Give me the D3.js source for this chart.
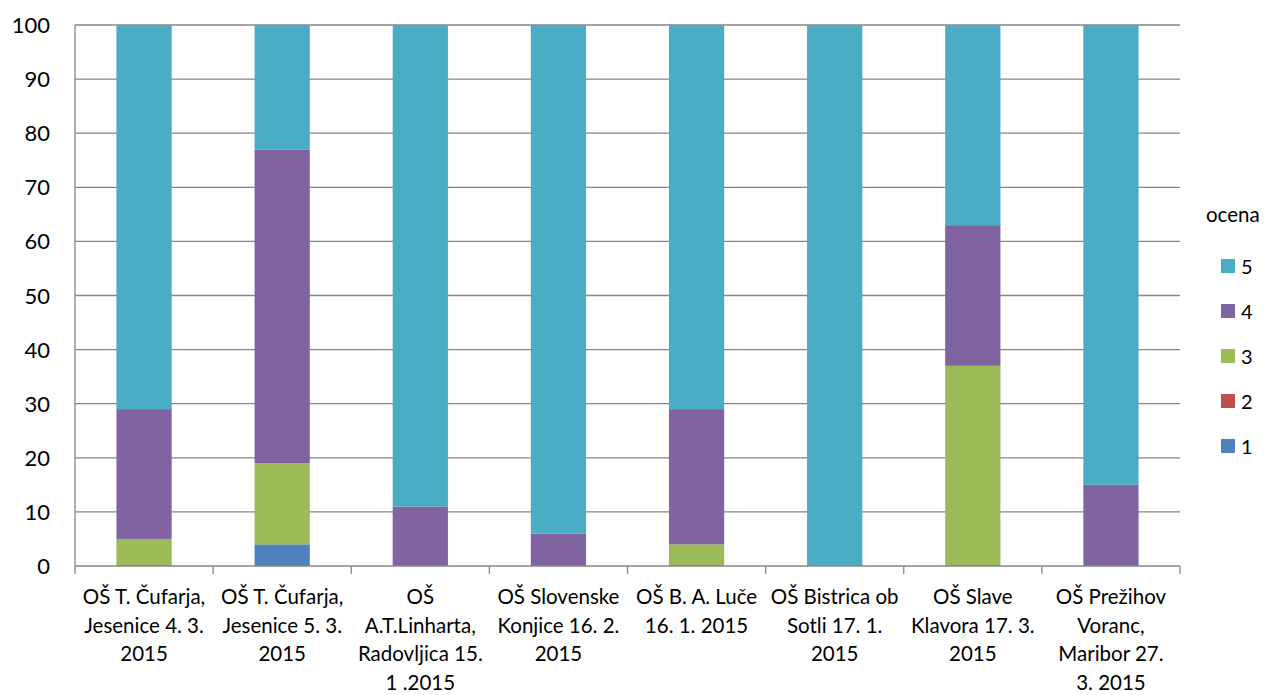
<!DOCTYPE html>
<html><head><meta charset="utf-8">
<script src="https://cdn.jsdelivr.net/npm/d3@7"></script>
<style>body{margin:0;background:#fff}svg text{font-family:Lato,"Open Sans",sans-serif;fill:#000}</style>
</head><body><svg id="c" width="1266" height="695"></svg>
<script>
const categories = [
 "OŠ T. Čufarja,\nJesenice 4. 3.\n2015",
 "OŠ T. Čufarja,\nJesenice 5. 3.\n2015",
 "OŠ\nA.T.Linharta,\nRadovljica 15.\n1 .2015",
 "OŠ Slovenske\nKonjice 16. 2.\n2015",
 "OŠ B. A. Luče\n16. 1. 2015",
 "OŠ Bistrica ob\nSotli 17. 1.\n2015",
 "OŠ Slave\nKlavora 17. 3.\n2015",
 "OŠ Prežihov\nVoranc,\nMaribor 27.\n3. 2015"
];
const grade1 = [0, 4, 0, 0, 0, 0, 0, 0];
const grade2 = [0, 0, 0, 0, 0, 0, 0, 0];
const grade3 = [5, 15, 0, 0, 4, 0, 37, 0];
const grade4 = [24, 58, 11, 6, 25, 0, 26, 15];
const grade5 = [71, 23, 89, 94, 71, 100, 37, 85];
const seriesNames = ["1","2","3","4","5"];
const seriesColors = ["#4F81BD","#C0504D","#9BBB59","#8064A2","#4BACC6"];
const yTicks = [0,10,20,30,40,50,60,70,80,90,100];
const legendTitle = "ocena";

const svg = d3.select("#c");
const L=75, R=1180, T=25, B=566;
const x = d3.scaleBand().domain(d3.range(categories.length)).range([L,R]).paddingInner(0.6).paddingOuter(0.3);
const xb = d3.scaleBand().domain(d3.range(categories.length)).range([L,R]);
const y = d3.scaleLinear().domain([0,100]).range([B,T]);

svg.append("g").selectAll("line").data(yTicks.filter(d=>d>0)).join("line")
 .attr("x1",L).attr("x2",R).attr("y1",d=>y(d)).attr("y2",d=>y(d))
 .attr("stroke","#868686").attr("stroke-width",1.3);

const table = categories.map((c,i)=>({i, "1":grade1[i],"2":grade2[i],"3":grade3[i],"4":grade4[i],"5":grade5[i]}));
const stack = d3.stack().keys(seriesNames)(table);
svg.append("g").selectAll("g").data(stack).join("g").attr("fill",(d,i)=>seriesColors[i])
 .selectAll("rect").data(d=>d).join("rect")
 .attr("x",d=>x(d.data.i)).attr("width",x.bandwidth())
 .attr("y",d=>y(d[1])).attr("height",d=>y(d[0])-y(d[1]));

svg.append("line").attr("x1",L).attr("x2",L).attr("y1",T).attr("y2",B).attr("stroke","#868686").attr("stroke-width",1.3);
svg.append("line").attr("x1",L).attr("x2",R).attr("y1",B).attr("y2",B).attr("stroke","#868686").attr("stroke-width",1.3);
const bounds = d3.range(categories.length+1).map(i=> i<categories.length? xb(i) : R);
svg.append("g").selectAll("line").data(bounds).join("line")
 .attr("x1",d=>d).attr("x2",d=>d).attr("y1",B).attr("y2",B+8).attr("stroke","#868686").attr("stroke-width",1.3);

svg.append("g").selectAll("text").data(yTicks).join("text")
 .attr("x",50).attr("y",d=>y(d)+8).attr("text-anchor","end").attr("font-size",22).text(d=>d);

const xl = svg.append("g").selectAll("text").data(categories).join("text")
 .attr("text-anchor","middle").attr("font-size",20.5)
 .attr("transform",(d,i)=>`translate(${xb(i)+xb.bandwidth()/2},604)`);
xl.selectAll("tspan").data(d=>d.split("\n")).join("tspan")
 .attr("x",0).attr("y",(d,j)=>j*28.6).text(d=>d);

svg.append("text").attr("x",1206).attr("y",222).attr("font-size",20.5).text(legendTitle);
const lg = svg.append("g").selectAll("g").data(seriesNames.slice().reverse()).join("g")
 .attr("transform",(d,i)=>`translate(1221,${259+i*45})`);
lg.append("rect").attr("width",14).attr("height",14).attr("fill",d=>seriesColors[seriesNames.indexOf(d)]);
lg.append("text").attr("x",20).attr("y",14.5).attr("font-size",20).text(d=>d);
</script></body></html>
